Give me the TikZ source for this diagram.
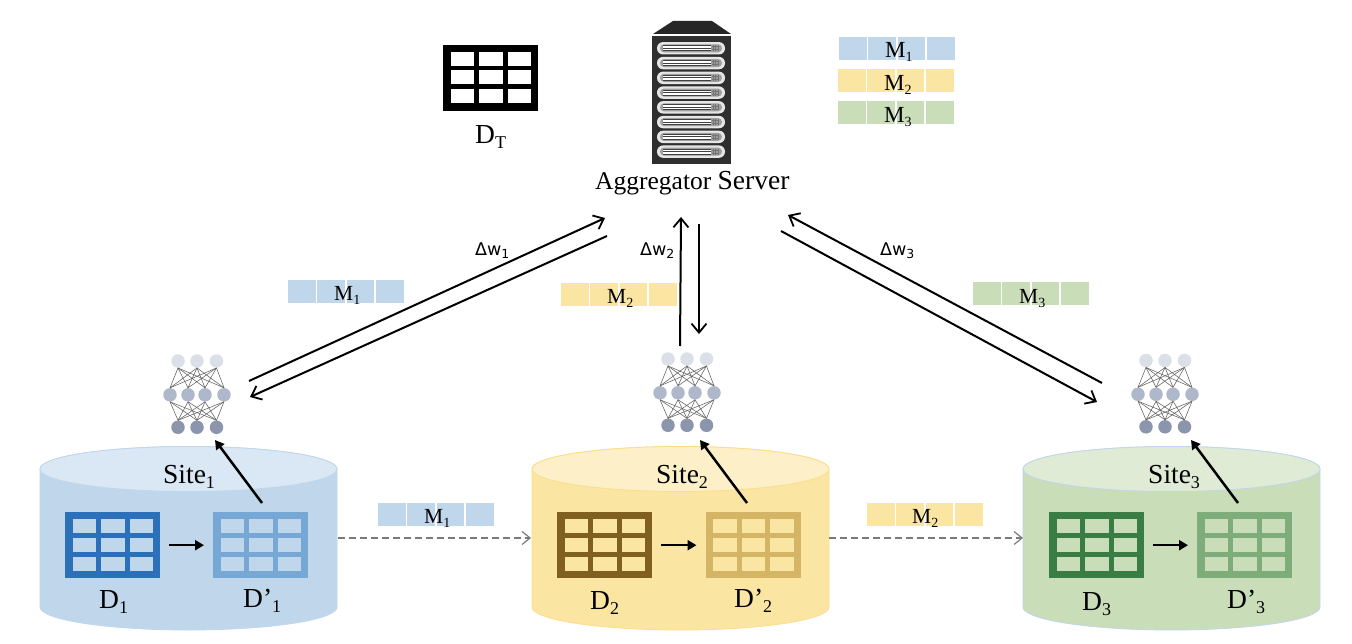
\documentclass[tikz,border=0pt]{standalone}
\usepackage{fontspec}
\setmainfont{Liberation Serif}
\newfontfamily\dvfont{DejaVu Sans}
\usetikzlibrary{arrows.meta}
\definecolor{blueA}{HTML}{C0D6EB}\definecolor{blueT}{HTML}{DAE7F4}\definecolor{blueD}{HTML}{2B70B8}\definecolor{blueL}{HTML}{76A7D5}
\definecolor{yelA}{HTML}{FBE5A3}\definecolor{yelT}{HTML}{FDF0C8}\definecolor{yelE}{HTML}{FBDD8A}\definecolor{yelD}{HTML}{7F6020}\definecolor{yelL}{HTML}{D3B565}
\definecolor{grnA}{HTML}{C9DDB8}\definecolor{grnT}{HTML}{E0EBD5}\definecolor{grnD}{HTML}{3A7D44}\definecolor{grnL}{HTML}{7EAC7A}
\definecolor{netA}{HTML}{DBDFE7}\definecolor{netB}{HTML}{AEB8CA}\definecolor{netC}{HTML}{8B96AD}
\tikzset{
  x=1pt,y=-1pt,
  longarrow/.style={draw=black,line width=2pt,-{Straight Barb[length=9pt,width=15pt,line width=1.8pt]}},
  shortarrow/.style={draw=black,line width=2.5pt,-{Triangle[length=9pt,width=10pt]}},
  dasharrow/.style={draw=black!52,line width=1.3pt,dash pattern=on 7pt off 4pt,-{Straight Barb[length=8pt,width=13pt,line width=1.2pt]}},
  netdot/.style={circle,minimum size=13.5pt,inner sep=0pt,draw=none},
  netedge/.style={draw=black!62,line width=.55pt},
  tablebox/.style={rectangle,minimum width=95pt,minimum height=66pt,inner sep=0pt,anchor=north west},
  lab/.style={inner sep=0pt,anchor=base west,text=black},
  bigtext/.style={lab,font=\fontsize{27.5}{27.5}\selectfont},
  mtext/.style={lab,font=\fontsize{21.5}{21.5}\selectfont},
  mtop/.style={lab,font=\fontsize{23}{23}\selectfont},
  dwtext/.style={lab,font=\dvfont\fontsize{17.5}{17.5}\selectfont},
}
\newcommand{\lowb}[1]{{\fontsize{18}{18}\selectfont\raisebox{-5pt}{#1}}}
\newcommand{\lowm}[1]{{\fontsize{14}{14}\selectfont\raisebox{-4pt}{#1}}}
\newcommand{\lowd}[1]{{\fontsize{12.5}{12.5}\selectfont\raisebox{-3pt}{#1}}}
\newcommand{\datatable}[5]{%
  \node[tablebox,fill=#4] (#1) at (#2,#3) {};
  \foreach \cx in {7.6,36.2,64.8}{\foreach \cy in {7.3,26,44.8}{
    \fill[#5] ({#2+\cx},{#3+\cy}) rectangle ++(23.4,13.9);}}}
\newcommand{\modelbar}[3]{%
  \foreach \k in {0,1,2,3}{\fill[#3] ({#1+29.3*\k},#2) rectangle ++(27.8,23);}}
\newcommand{\neuralnet}[3]{%
  \node[netdot,fill=netA] (#1t1) at ({178+#2},#3) {};
  \node[netdot,fill=netA] (#1t2) at ({197+#2},#3) {};
  \node[netdot,fill=netA] (#1t3) at ({216.5+#2},#3) {};
  \node[netdot,fill=netB] (#1m1) at ({170+#2},{#3+33.8}) {};
  \node[netdot,fill=netB] (#1m2) at ({188+#2},{#3+33.8}) {};
  \node[netdot,fill=netB] (#1m3) at ({205+#2},{#3+33.8}) {};
  \node[netdot,fill=netB] (#1m4) at ({224+#2},{#3+33.8}) {};
  \node[netdot,fill=netC] (#1b1) at ({178+#2},{#3+66.3}) {};
  \node[netdot,fill=netC] (#1b2) at ({197+#2},{#3+66.3}) {};
  \node[netdot,fill=netC] (#1b3) at ({216.5+#2},{#3+66.3}) {};
  \foreach \p in {1,2,3}{\foreach \q in {1,2,3,4}{
    \draw[netedge] (#1t\p.south) -- (#1m\q.north);
    \draw[netedge] (#1b\p.north) -- (#1m\q.south);}}}
\newcommand{\siteCyl}[4]{% left, body, top, edge
  \path[fill=#2,draw=#4,line width=.8pt] (#1,469) -- (#1,607)
    arc[start angle=180,end angle=360,x radius=148.5pt,y radius=23pt]
    -- ({#1+297},469) arc[start angle=0,end angle=180,x radius=148.5pt,y radius=22.5pt] -- cycle;
  \path[fill=#3,draw=#4,line width=.8pt] ({#1+148.5},469) ellipse[x radius=148.5pt,y radius=22.5pt];}
\newcommand{\serverslot}[1]{%
  \fill[white!90!black,rounded corners=6pt] (657,{#1-6.2}) rectangle (725,{#1+6.2});
  \fill[white!62!black,rounded corners=4pt] (660,{#1-4}) rectangle (722,{#1+4});
  \fill[white] (663,{#1-3}) rectangle (711,{#1+3});
  \foreach \dd in {-2.4,0,2.4}{\draw[black!75,line width=.9pt] (663,{#1+\dd}) -- (711,{#1+\dd});}
  \foreach \dd in {713,715.5,718}{\draw[black!55,line width=.7pt] (\dd,{#1-3}) -- (\dd,{#1+3});}
  \draw[black!55,line width=.6pt] (712,{#1-1.5}) -- (719,{#1-1.5}) (712,{#1+1.5}) -- (719,{#1+1.5});}
\begin{document}
\begin{tikzpicture}
\useasboundingbox (0,0) rectangle (1352,644);
\fill[white] (0,0) rectangle (1352,644);

% server
\fill[black!85] (653,34) -- (673,21) -- (712,21) -- (731,34) -- cycle;
\fill[black!82] (652,36) rectangle (731,164);
\foreach \i in {0,...,7}{\pgfmathsetmacro{\sy}{48.3+14.76*\i}\serverslot{\sy}}
\node[lab,font=\fontsize{25.5}{25.5}\selectfont] (serverlabel) at (595,190) {Aggregator \fontsize{27.5}{27.5}\selectfont Server};
\coordinate (srvA) at (605,218); \coordinate (srvB) at (607,236);
\coordinate (srvC) at (681,217); \coordinate (srvD) at (699,224);
\coordinate (srvE) at (788,215); \coordinate (srvF) at (781,231);

% target table
\datatable{dt}{443}{44.5}{black}{white}
\node[bigtext] (dtlabel) at (475,144) {D\lowb{T}};

% model legend
\modelbar{839}{37}{blueA}\node[mtop] (lm1) at (885,58) {M\lowm{1}};
\modelbar{838}{69}{yelA}\node[mtop] (lm2) at (884,91) {M\lowm{2}};
\modelbar{838}{101}{grnA}\node[mtop] (lm3) at (884,123) {M\lowm{3}};

% cylinders
\siteCyl{40}{blueA}{blueT}{blueA}
\siteCyl{532}{yelA}{yelT}{yelE}
\siteCyl{1023}{grnA}{grnT}{blueA}

% tables
\datatable{t1}{65}{512}{blueD}{blueA}
\datatable{p1}{213}{512}{blueL}{blueA}
\datatable{t2}{557}{512}{yelD}{yelA}
\datatable{p2}{705.5}{512}{yelL}{yelA}
\datatable{t3}{1049}{512}{grnD}{grnA}
\datatable{p3}{1197}{512}{grnL}{grnA}
\foreach \n in {1,2,3}{\draw[shortarrow,shorten <=9pt,shorten >=9pt] (t\n) -- (p\n);}

% nets
\neuralnet{na}{0}{361}
\neuralnet{nb}{490}{359}
\neuralnet{nc}{968}{360.5}

% site text
\node[bigtext] (s1) at (163,483) {Site\lowb{1}};
\node[bigtext] (s2) at (656,483) {Site\lowb{2}};
\node[bigtext] (s3) at (1148,483) {Site\lowb{3}};
\node[bigtext] (d1) at (99,608) {D\lowb{1}};
\node[bigtext] (d2) at (590,609) {D\lowb{2}};
\node[bigtext] (d3) at (1082,610) {D\lowb{3}};
\node[bigtext] (dp1) at (243,607) {D’\lowb{1}};
\node[bigtext] (dp2) at (734,607) {D’\lowb{2}};
\node[bigtext] (dp3) at (1227,608) {D’\lowb{3}};

% up arrows
\coordinate (ua1) at (262,503); \coordinate (ub1) at (215,440);
\coordinate (ua2) at (747,503); \coordinate (ub2) at (700,440);
\coordinate (ua3) at (1238,503); \coordinate (ub3) at (1191,440);
\foreach \n in {1,2,3}{\draw[shortarrow] (ua\n) -- (ub\n);}

% model bars on links
\modelbar{288}{280}{blueA}\node[mtext] (b1) at (334,301) {M\lowm{1}};
\modelbar{561}{283}{yelA}\node[mtext] (b2) at (607,304) {M\lowm{2}};
\modelbar{973}{282}{grnA}\node[mtext] (b3) at (1019,304) {M\lowm{3}};
\modelbar{378}{503}{blueA}\node[mtext] (b4) at (424,523) {M\lowm{1}};
\modelbar{867}{503}{yelA}\node[mtext] (b5) at (912,523) {M\lowm{2}};

% links
\coordinate (naA) at (249,381); \coordinate (naB) at (250,397);
\coordinate (nbA) at (680,346); \coordinate (nbB) at (699,334);
\coordinate (ncA) at (1102,383); \coordinate (ncB) at (1097,402);
\draw[longarrow] (naA) -- (srvA);
\draw[longarrow] (srvB) -- (naB);
\draw[longarrow] (nbA) -- (srvC);
\draw[longarrow] (srvD) -- (nbB);
\draw[longarrow] (ncA) -- (srvE);
\draw[longarrow] (srvF) -- (ncB);

\node[dwtext] (w1) at (475,256) {Δw\lowd{1}};
\node[dwtext] (w2) at (640,256) {Δw\lowd{2}};
\node[dwtext] (w3) at (880,256) {Δw\lowd{3}};

% dashed transfers
\coordinate (dsA) at (338,538); \coordinate (dtA) at (531,538);
\coordinate (dsB) at (829,538); \coordinate (dtB) at (1023,538);
\draw[dasharrow] (dsA) -- (dtA);
\draw[dasharrow] (dsB) -- (dtB);
\end{tikzpicture}
\end{document}
